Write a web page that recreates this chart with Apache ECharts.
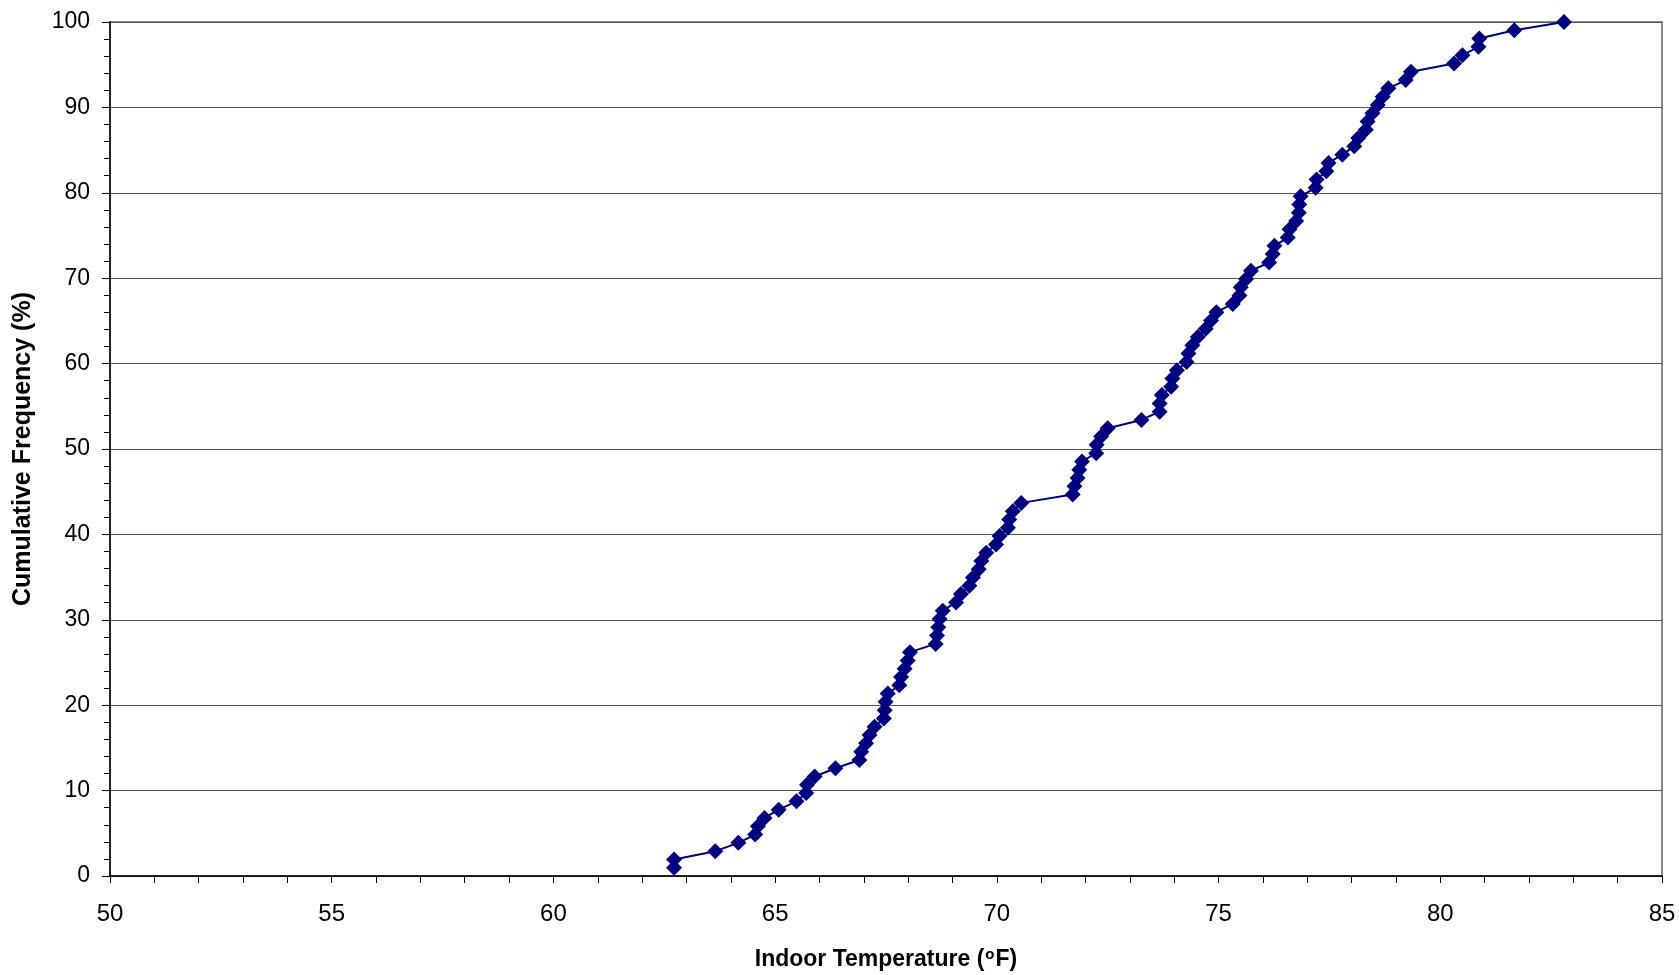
<!DOCTYPE html>
<html>
<head>
<meta charset="utf-8">
<script src="https://cdn.jsdelivr.net/npm/echarts@6/dist/echarts.min.js"></script>
<style>
  html, body { margin: 0; padding: 0; background: #fff; }
  #chart { width: 1679px; height: 975px; }
</style>
</head>
<body>
<div id="chart"></div>
<script>
// Indoor temperature (°F) of each sorted reading
const temperatures = [
  62.72, 62.72, 63.65, 64.17, 64.55, 64.61, 64.76, 65.08, 65.48, 65.70,
  65.72, 65.89, 66.36, 66.90, 66.94, 67.05, 67.13, 67.24, 67.45, 67.47,
  67.49, 67.54, 67.80, 67.84, 67.92, 67.99, 68.04, 68.62, 68.65, 68.68,
  68.71, 68.78, 69.08, 69.19, 69.38, 69.46, 69.59, 69.65, 69.76, 69.98,
  70.06, 70.25, 70.28, 70.36, 70.55, 71.71, 71.75, 71.82, 71.86, 71.92,
  72.24, 72.25, 72.35, 72.50, 73.26, 73.67, 73.67, 73.72, 73.93, 73.96,
  74.06, 74.28, 74.32, 74.41, 74.53, 74.71, 74.83, 74.95, 75.32, 75.47,
  75.50, 75.62, 75.73, 76.14, 76.22, 76.26, 76.56, 76.60, 76.75, 76.81,
  76.82, 76.85, 77.19, 77.21, 77.43, 77.48, 77.79, 78.06, 78.15, 78.32,
  78.36, 78.47, 78.59, 78.70, 78.83, 79.22, 79.34, 80.31, 80.50, 80.86,
  80.88, 81.67, 82.79
];
// Cumulative frequency (%) of each reading
const cumulativeFrequency = [
  0.97, 1.94, 2.91, 3.88, 4.85, 5.83, 6.80, 7.77, 8.74, 9.71,
  10.68, 11.65, 12.62, 13.59, 14.56, 15.53, 16.50, 17.48, 18.45, 19.42,
  20.39, 21.36, 22.33, 23.30, 24.27, 25.24, 26.21, 27.18, 28.16, 29.13,
  30.10, 31.07, 32.04, 33.01, 33.98, 34.95, 35.92, 36.89, 37.86, 38.83,
  39.81, 40.78, 41.75, 42.72, 43.69, 44.66, 45.63, 46.60, 47.57, 48.54,
  49.51, 50.49, 51.46, 52.43, 53.40, 54.37, 55.34, 56.31, 57.28, 58.25,
  59.22, 60.19, 61.17, 62.14, 63.11, 64.08, 65.05, 66.02, 66.99, 67.96,
  68.93, 69.90, 70.87, 71.84, 72.82, 73.79, 74.76, 75.73, 76.70, 77.67,
  78.64, 79.61, 80.58, 81.55, 82.52, 83.50, 84.47, 85.44, 86.41, 87.38,
  88.35, 89.32, 90.29, 91.26, 92.23, 93.20, 94.17, 95.15, 96.12, 97.09,
  98.06, 99.03, 100.00
];
const xTitle = 'Indoor Temperature (';
const yTitle = 'Cumulative Frequency (%)';

const points = temperatures.map((t, i) => [t, cumulativeFrequency[i]]);

const chart = echarts.init(document.getElementById('chart'), null, { renderer: 'canvas' });
const font = '"Liberation Sans", Arial, sans-serif';
chart.setOption({
  animation: false,
  backgroundColor: '#ffffff',
  grid: {
    left: 110, right: 17, top: 22, bottom: 99,
    outerBoundsMode: 'none',
    containLabel: false,
    show: true, borderColor: '#8c8c8c', borderWidth: 2, backgroundColor: 'transparent'
  },
  xAxis: {
    type: 'value', min: 50, max: 85, interval: 5,
    name: '{t|' + xTitle + '}{s|o}{t|F)}',
    nameLocation: 'middle', nameGap: 71,
    nameTextStyle: {
      rich: {
        t: { fontFamily: font, fontSize: 23, fontWeight: 'bold', color: '#000' },
        s: { fontFamily: font, fontSize: 15, fontWeight: 'bold', color: '#000', verticalAlign: 'top', padding: [0, 1, 10, 1] }
      }
    },
    axisLine: { show: true, lineStyle: { color: '#000', width: 1.5 } },
    axisTick: { show: true, inside: false, length: 7, lineStyle: { color: '#000' } },
    minorTick: { show: true, splitNumber: 5, length: 7, lineStyle: { color: '#000' } },
    splitLine: { show: false },
    axisLabel: { fontFamily: font, fontSize: 24, color: '#000', margin: 26 }
  },
  yAxis: {
    type: 'value', min: 0, max: 100, interval: 10,
    name: yTitle, nameLocation: 'middle', nameGap: 74,
    nameTextStyle: { fontFamily: font, fontSize: 25, fontWeight: 'bold', color: '#000' },
    axisLine: { show: true, lineStyle: { color: '#000', width: 1.5 } },
    axisTick: { show: true, inside: false, length: 8, lineStyle: { color: '#000' } },
    minorTick: { show: true, splitNumber: 5, length: 6, lineStyle: { color: '#000' } },
    splitLine: { show: true, lineStyle: { color: '#555', width: 1 } },
    axisLabel: { fontFamily: font, fontSize: 23, color: '#000', margin: 20 }
  },
  series: [{
    type: 'line',
    data: points,
    symbol: 'diamond',
    symbolSize: 16,
    showSymbol: true,
    lineStyle: { color: '#000080', width: 2 },
    itemStyle: { color: '#000080' },
    z: 5
  }]
});
</script>
</body>
</html>
